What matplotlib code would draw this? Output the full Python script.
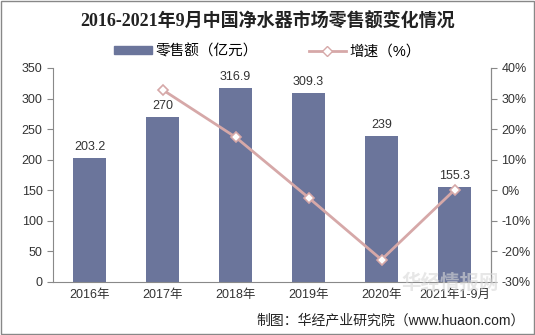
import matplotlib
matplotlib.use("Agg")
import matplotlib.pyplot as plt
from matplotlib.patches import Rectangle
from matplotlib.lines import Line2D

plt.rcParams['font.family'] = ['Liberation Sans', 'Noto Sans CJK SC']

years = ['2016年', '2017年', '2018年', '2019年', '2020年', '2021年1-9月']
sales = [203.2, 270, 316.9, 309.3, 239, 155.3]
growth = [None, 32.9, 17.4, -2.4, -22.7, 0.1]

bar_color = '#6B759B'
line_color = '#D6A8A8'
grid_gray = '#898989'

fig = plt.figure(figsize=(5.35, 3.35), dpi=100)
ax = fig.add_axes([53 / 535, 1 - 282 / 335, 438 / 535, 214 / 335])

x = list(range(len(years)))
ax.bar(x, sales, width=0.45, color=bar_color, zorder=2)
for xi, v in zip(x, sales):
    ax.text(xi, v + 8, f'{v:g}', ha='center', va='bottom', fontsize=9, color='#333333')

ax.set_xlim(-0.5, len(years) - 0.5)
ax.set_ylim(0, 350)
ax.set_yticks(range(0, 351, 50))
ax.set_xticks(x)
ax.set_xticklabels(years, fontsize=9, color='#333333')
ax.tick_params(axis='y', labelsize=9, colors='#333333', length=4, color=grid_gray)
ax.tick_params(axis='x', length=0, pad=5)
ax.spines['top'].set_visible(False)
for s in ['left', 'right', 'bottom']:
    ax.spines[s].set_color(grid_gray)
    ax.spines[s].set_linewidth(0.8)

ax2 = ax.twinx()
gx = [xi for xi, g in zip(x, growth) if g is not None]
gy = [g for g in growth if g is not None]
ax2.plot(gx, gy, color=line_color, linewidth=2, marker='D', markersize=5,
         markerfacecolor='white', markeredgecolor=line_color, markeredgewidth=1.2, zorder=3)
ax2.set_ylim(-30, 40)
ax2.set_yticks(range(-30, 41, 10))
ax2.set_yticklabels([f'{t}%' for t in range(-30, 41, 10)])
ax2.tick_params(axis='y', labelsize=9, colors='#333333', length=4, color=grid_gray)
for s in ['top', 'left', 'bottom']:
    ax2.spines[s].set_visible(False)
ax2.spines['right'].set_color(grid_gray)
ax2.spines['right'].set_linewidth(0.8)

fig.text(0.5, 1 - 22 / 335, '2016-2021年9月中国净水器市场零售额变化情况', ha='center', va='center',
         fontsize=13, fontweight='bold', color='#222222',
         family=['Liberation Serif', 'Noto Sans CJK SC'])

handles = [Rectangle((0, 0), 1, 1, color=bar_color),
           Line2D([], [], color=line_color, linewidth=2, marker='D', markersize=5,
                  markerfacecolor='white', markeredgecolor=line_color)]
fig.legend(handles, ['零售额（亿元）', '增速（%）'], loc='center', bbox_to_anchor=(0.5, 1 - 51 / 335),
           ncol=2, frameon=False, fontsize=10.5, handlelength=2.6, handleheight=0.4,
           columnspacing=3.5, handletextpad=0.2)

# watermark
fig.text(450 / 535, 1 - 283 / 335, '华经情报网', ha='center', va='center', fontsize=14,
         fontweight='bold', color='#D8D8D8', alpha=0.6, zorder=0)

fig.text(525 / 535, 1 - 320 / 335, '制图：华经产业研究院（www.huaon.com）', ha='right', va='center',
         fontsize=10, color='#222222')

fig.patches.append(Rectangle((1 / 535, 1 / 335), 533 / 535, 333 / 335, transform=fig.transFigure,
                             fill=False, edgecolor='#888888', linewidth=1))

fig.savefig('out.png', dpi=100)
